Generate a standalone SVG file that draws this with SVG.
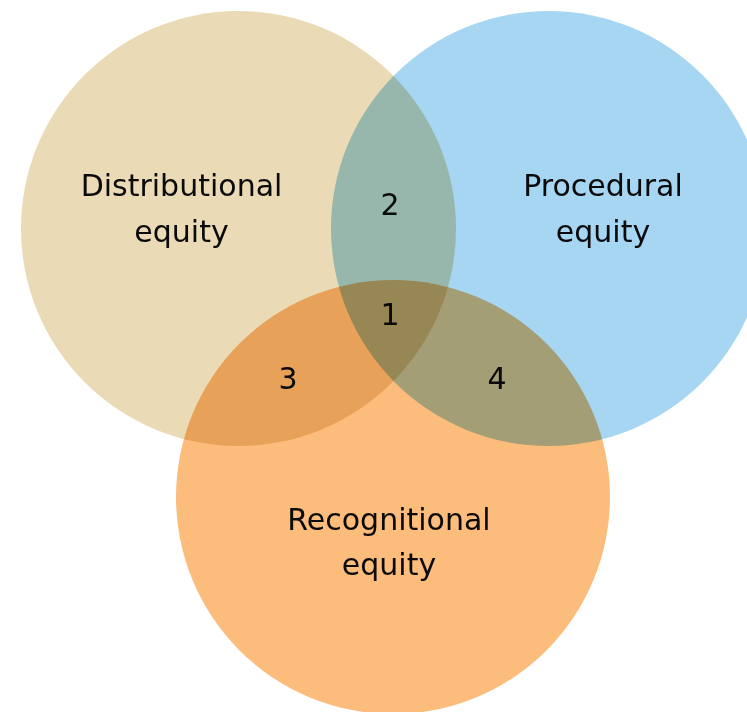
<svg xmlns="http://www.w3.org/2000/svg" width="747" height="712" viewBox="0 0 747 712">
  <style>
    .set { mix-blend-mode: multiply; }
    .lbl { font-family: "DejaVu Sans", "Liberation Sans", sans-serif; font-size: 30px; fill: #0a0a0a; text-anchor: middle; }
  </style>
  <rect x="0" y="0" width="747" height="712" fill="#ffffff"/>
  <g id="circles" style="isolation:isolate">
    <g id="distributional">
      <circle class="set" cx="238.5" cy="228.5" r="217.5" fill="#EADAB5"/>
    </g>
    <g id="procedural">
      <circle class="set" cx="548.5" cy="228.5" r="217.5" fill="#A6D6F2"/>
    </g>
    <g id="recognitional">
      <circle class="set" cx="393" cy="497" r="217" fill="#FCBC7C"/>
    </g>
  </g>
  <g id="labels">
    <text class="lbl" x="181.5" y="196">Distributional</text>
    <text class="lbl" x="181.5" y="242">equity</text>
    <text class="lbl" x="603" y="196">Procedural</text>
    <text class="lbl" x="603" y="242">equity</text>
    <text class="lbl" x="389" y="530">Recognitional</text>
    <text class="lbl" x="389" y="575">equity</text>
    <text id="region-2" class="lbl" x="390" y="215">2</text>
    <text id="region-1" class="lbl" x="390" y="325">1</text>
    <text id="region-3" class="lbl" x="288" y="389">3</text>
    <text id="region-4" class="lbl" x="497" y="389">4</text>
  </g>
</svg>
